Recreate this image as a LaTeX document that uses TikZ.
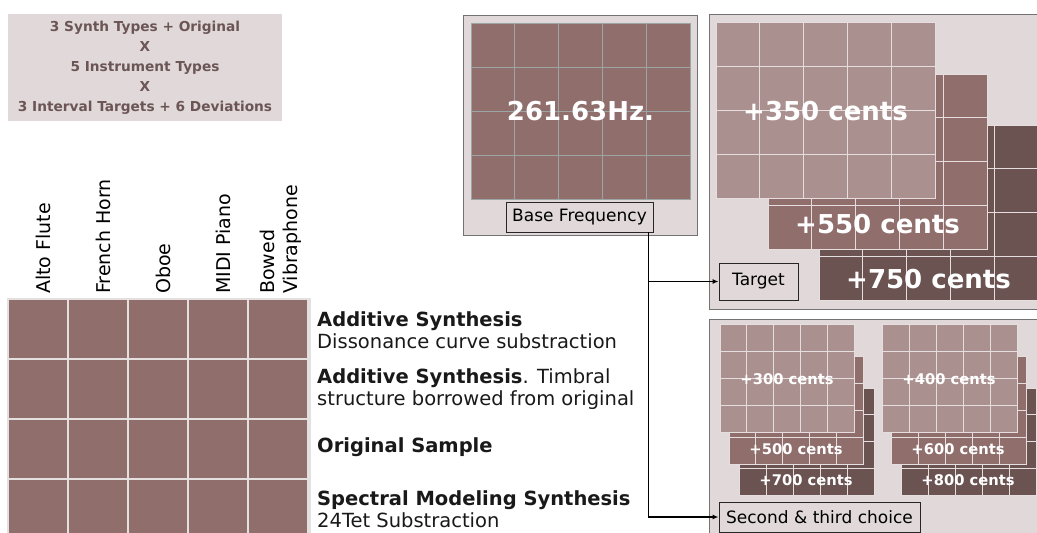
\documentclass[tikz,border=0pt]{standalone}
\usepackage{fontspec}
\setmainfont{DejaVu Sans}
\usetikzlibrary{positioning,calc,arrows.meta}
\definecolor{panel}{HTML}{E1D9D9}
\definecolor{cell}{HTML}{8F6E6C}
\definecolor{lightcell}{HTML}{AA9190}
\definecolor{darkcell}{HTML}{6B5352}
\definecolor{headtext}{HTML}{6B5555}
\definecolor{gapgray}{HTML}{E4E0E0}
\definecolor{basegrid}{HTML}{9CA4A4}
\definecolor{tileline}{HTML}{E6DEDE}
\tikzset{
  panelbox/.style={draw=black!55, fill=panel, line width=0.9pt},
  labelbox/.style={draw=black!85, fill=panel, line width=0.9pt, inner sep=0pt, font=\fontsize{17}{20}\selectfont},
  collabel/.style={rotate=90, anchor=west, inner sep=0pt, align=left, font=\fontsize{19}{23}\selectfont},
  rowlabel/.style={anchor=west, inner sep=0pt, align=left, text=black!90, font=\fontsize{19.5}{22}\selectfont},
  bigcents/.style={text=white, inner sep=0pt, font=\bfseries\fontsize{26}{30}\selectfont},
  smallcents/.style={text=white, inner sep=0pt, font=\bfseries\fontsize{14.7}{17}\selectfont},
  link/.style={line width=1.2pt, -{Latex[length=6pt,width=5pt]}},
}
% 5 x 4 grid of tiles: top left, bottom right, fill, lines
\newcommand{\tiles}[6]{%
  \filldraw[fill=#5, draw=#6, line width=0.8pt] (#1,#2) rectangle (#3,#4);
  \foreach \k in {1,2,3,4} \draw[#6, line width=0.8pt] ({#1+\k*(#3-#1)/5},#2) -- ({#1+\k*(#3-#1)/5},#4);
  \foreach \k in {1,2,3} \draw[#6, line width=0.8pt] (#1,{#2+\k*(#4-#2)/4}) -- (#3,{#2+\k*(#4-#2)/4});
}
\begin{document}
\begin{tikzpicture}[x=1pt, y=-1pt]
\useasboundingbox (0,0) rectangle (1037,533);
\clip (0,0) rectangle (1037,533);
\fill[white] (0,0) rectangle (1037,533);

% combinations
\node[fill=panel, minimum width=274pt, minimum height=107pt, inner sep=0pt, align=center, text=headtext,
  font=\bfseries\fontsize{13.7}{20}\selectfont] (combo) at (145,67.5)
  {3 Synth Types + Original\\X\\5 Instrument Types\\X\\3 Interval Targets + 6 Deviations};

% instruments x synth types
\fill[gapgray] (7,298) rectangle (311,545);
\foreach \c in {0,...,4}
  \foreach \r in {0,...,3}
    \fill[cell] ({9+60*\c},{300+60*\r}) rectangle ++(58,58);
\node[collabel] (alto) at (43,294) {Alto Flute};
\node[collabel] (horn) at (103,294) {French Horn};
\node[collabel] (oboe) at (163,294) {Oboe};
\node[collabel] (piano) at (223,294) {MIDI Piano};
\node[collabel] (vibes) at (281,294) {Bowed\\Vibraphone};
\node[rowlabel] (addA) at (317,330) {\textbf{Additive Synthesis}\\Dissonance curve substraction};
\node[rowlabel] (addB) at (317,389) {\textbf{Additive Synthesis}. Timbral\\structure borrowed from original};
\node[rowlabel] (orig) at (317,447) {\textbf{Original Sample}};
\node[rowlabel] (sms) at (317,509) {\textbf{Spectral Modeling Synthesis}\\24Tet Substraction};

% base frequency
\draw[panelbox] (463,15) rectangle (697,235);
\tiles{471}{23}{690}{199}{cell}{basegrid}
\node[bigcents] (hz) at (580.5,111) {261.63Hz.};
\node[labelbox, minimum width=147pt, minimum height=30pt] (base) at (579.5,217) {Base Frequency};

% targets
\draw[panelbox] (709,14) rectangle (1050,309);
\tiles{819}{125}{1038}{300}{darkcell}{tileline}
\tiles{768}{74}{987}{249}{cell}{tileline}
\tiles{716}{22}{935}{198}{lightcell}{tileline}
\node[bigcents] (c350) at (825.5,111) {+350 cents};
\node[bigcents] (c550) at (877.5,224) {+550 cents};
\node[bigcents] (c750) at (928.5,279) {+750 cents};
\node[labelbox, minimum width=79pt, minimum height=37pt] (target) at (758.5,281.5) {Target};

% second and third choice
\draw[panelbox] (709,319) rectangle (1050,545);
\tiles{739}{388}{874}{495}{darkcell}{tileline}
\tiles{729}{356}{863}{464}{cell}{tileline}
\tiles{720}{324}{854}{432}{lightcell}{tileline}
\tiles{901}{388}{1036}{495}{darkcell}{tileline}
\tiles{891}{356}{1026}{464}{cell}{tileline}
\tiles{882}{324}{1017}{432}{lightcell}{tileline}
\node[smallcents] (c300) at (787,379) {+300 cents};
\node[smallcents] (c500) at (796,449) {+500 cents};
\node[smallcents] (c700) at (806,480) {+700 cents};
\node[smallcents] (c400) at (949,379) {+400 cents};
\node[smallcents] (c600) at (958,449) {+600 cents};
\node[smallcents] (c800) at (968,480) {+800 cents};
\node[labelbox, minimum width=201pt, minimum height=30pt] (second) at (819.5,517) {Second \& third choice};

% links
\coordinate (drop) at ($(base.south east)+(-5,0)$);
\draw[link] (drop) |- (second.west);
\draw[link] (drop |- target.west) -- (target.west);
\end{tikzpicture}
\end{document}
